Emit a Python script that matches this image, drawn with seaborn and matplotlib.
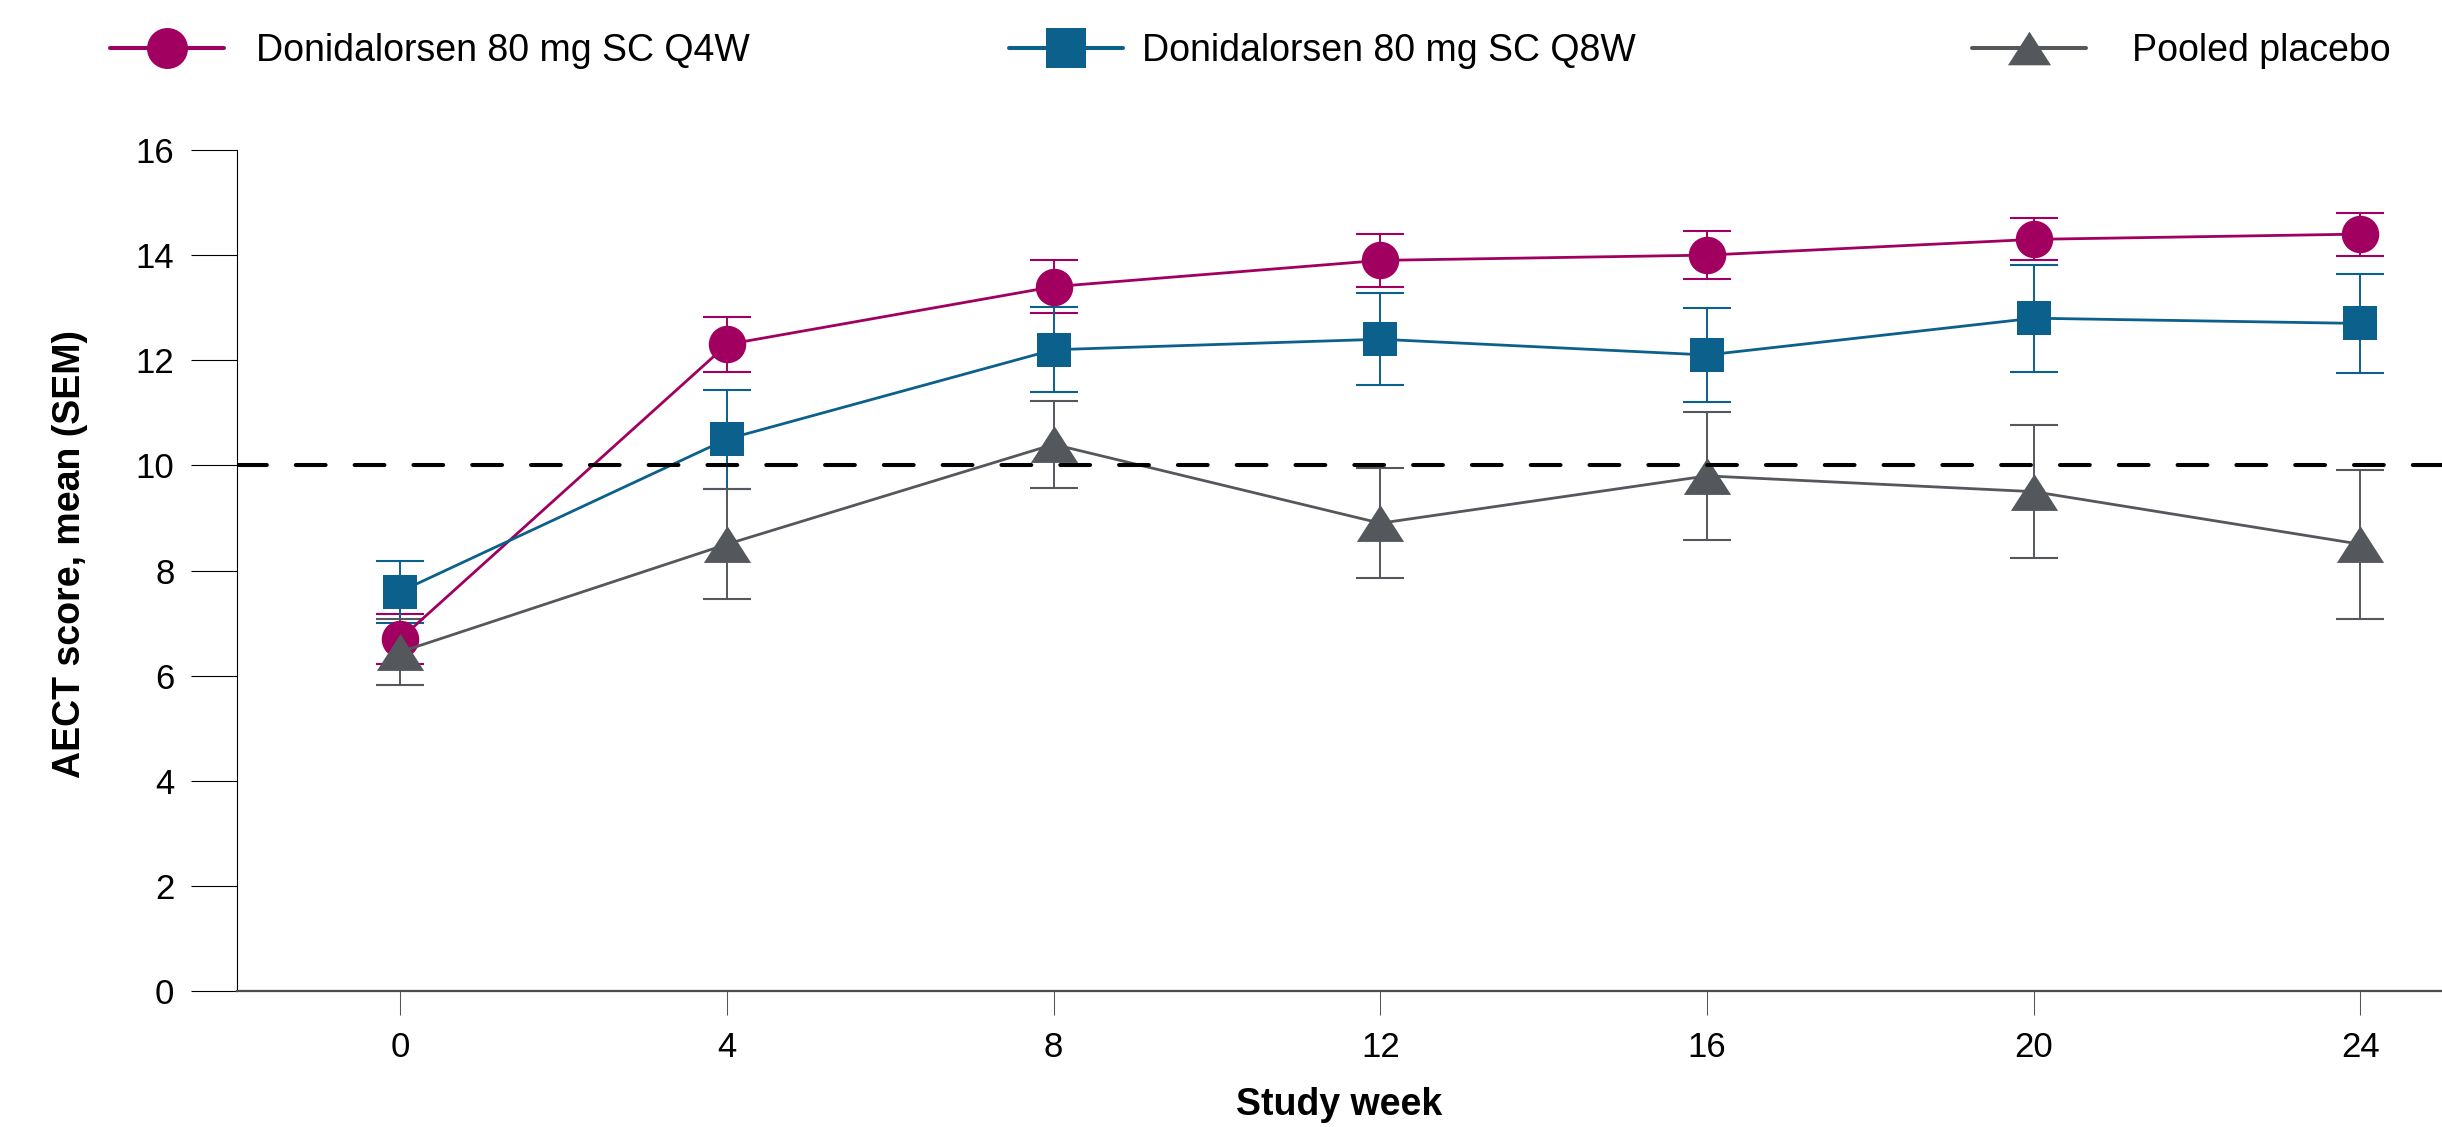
import numpy as np
import pandas as pd
import matplotlib
matplotlib.use("Agg")
import matplotlib.pyplot as plt
import seaborn as sns
from matplotlib.lines import Line2D

# ---------------- data ----------------
weeks = [0, 4, 8, 12, 16, 20, 24]
q4w_mean = [6.7, 12.3, 13.4, 13.9, 14.0, 14.3, 14.4]
q4w_sem = [0.48, 0.52, 0.50, 0.50, 0.46, 0.40, 0.41]
q8w_mean = [7.6, 10.5, 12.2, 12.4, 12.1, 12.8, 12.7]
q8w_sem = [0.59, 0.94, 0.81, 0.87, 0.90, 1.02, 0.94]
pbo_mean = [6.45, 8.5, 10.4, 8.9, 9.8, 9.5, 8.5]
pbo_sem = [0.63, 1.05, 0.83, 1.05, 1.22, 1.26, 1.42]
threshold = 10
series_labels = ["Donidalorsen 80 mg SC Q4W", "Donidalorsen 80 mg SC Q8W", "Pooled placebo"]
xticks = [0, 4, 8, 12, 16, 20, 24]
yticks = [0, 2, 4, 6, 8, 10, 12, 14, 16]

# ---------------- style ----------------
sns.set_theme(style="ticks")
plt.rcParams["font.family"] = ["Liberation Sans", "DejaVu Sans"]

C_Q4W = "#A10060"
C_Q8W = "#0B608C"
C_PBO = "#54575B"
TRI = [(-1, -0.78), (1, -0.78), (0, 0.78)]

W, H = 2442, 1127
fig = plt.figure(figsize=(W / 100, H / 100), dpi=100)
ax = fig.add_axes([237 / W, 1 - 991 / H, 1 - 237 / W, (991 - 150) / H])

series = [
    (q4w_mean, q4w_sem, C_Q4W, "o", 27.0),
    (q8w_mean, q8w_sem, C_Q8W, "s", 25.0),
    (pbo_mean, pbo_sem, C_PBO, TRI, 34.0),
]

for i, (m, s, c, mk, ms) in enumerate(series):
    ax.errorbar(weeks, m, yerr=s, fmt="none", ecolor=c, elinewidth=1.4,
                capsize=17.3, capthick=1.5, zorder=2 + i * 0.1)
    df = pd.DataFrame({"week": weeks, "mean": m})
    sns.lineplot(data=df, x="week", y="mean", ax=ax, color=c, marker=mk,
                 markersize=ms, markeredgewidth=0, markeredgecolor=c,
                 linewidth=2.0, errorbar=None, zorder=3 + i * 0.1)

ax.axhline(threshold, color="black", lw=2.9, linestyle=(0, (7.4, 7.2)),
           dash_capstyle="round", zorder=4)

ax.set_xlim(-2, 25)
ax.set_ylim(0, 16)
ax.set_xticks(xticks)
ax.set_yticks(yticks)
ax.set_xticklabels([str(t) for t in xticks])
ax.set_yticklabels([str(t) for t in yticks])

for sp in ["top", "right"]:
    ax.spines[sp].set_visible(False)
ax.spines["left"].set_color("black")
ax.spines["left"].set_linewidth(0.8)
ax.spines["bottom"].set_color("#4d4d4d")
ax.spines["bottom"].set_linewidth(1.6)

ax.tick_params(axis="y", direction="out", length=33, width=0.8, pad=12,
               labelsize=25, color="black", labelcolor="black")
ax.tick_params(axis="x", direction="out", length=17, width=0.75, pad=12,
               labelsize=25, color="#555555", labelcolor="black")

ax.set_xlabel("Study week", fontsize=27, fontweight="bold", color="black",
              va="baseline")
ax.xaxis.set_label_coords(0.5, (991 - 1115) / 841)
ax.set_ylabel("AECT score, mean (SEM)", fontsize=27, fontweight="bold",
              color="black", va="baseline")
ax.yaxis.set_label_coords((80 - 237) / 2205, (991 - 554) / 841)

# ---------------- legend (three separate entries) ----------------
leg_specs = [
    (series_labels[0], C_Q4W, "o", 29.5, 110, 0.85),
    (series_labels[1], C_Q8W, "s", 28.5, 1009, 0.5),
    (series_labels[2], C_PBO, TRI, 31.0, 1972, 1.23),
]
ly = 1 - 51 / H
for lab, c, mk, ms, x0, pad in leg_specs:
    h = Line2D([0], [0], color=c, lw=2.9, marker=mk, markersize=ms,
               markeredgewidth=0, markeredgecolor=c)
    lg = fig.legend([h], [lab], loc="center left", bbox_to_anchor=(x0 / W, ly),
                    frameon=False, fontsize=27, handlelength=3.04,
                    handletextpad=pad, borderpad=0, borderaxespad=0)
    for t in lg.get_texts():
        t.set_color("black")

fig.savefig("out.png", dpi=100)
